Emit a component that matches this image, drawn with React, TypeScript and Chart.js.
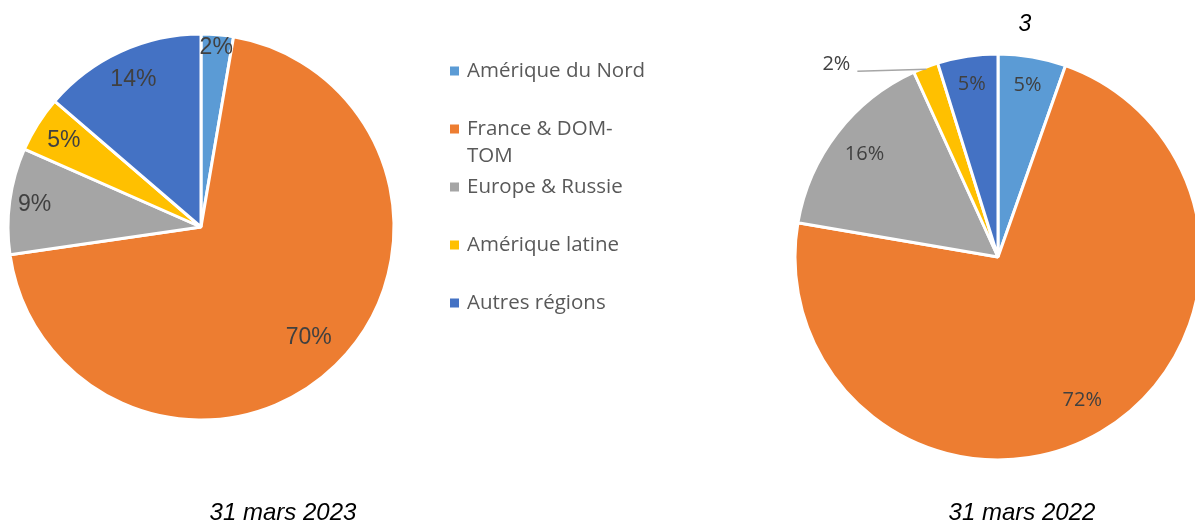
import React, { useEffect, useRef } from 'react';
import { Chart, registerables } from 'chart.js';

Chart.register(...registerables);

// ---------- data ----------
const categories = ['Amérique du Nord', 'France & DOM-TOM', 'Europe & Russie', 'Amérique latine', 'Autres régions'];
const legendLabels = ['Amérique du Nord', 'France & DOM-\nTOM', 'Europe & Russie', 'Amérique latine', 'Autres régions'];
const sliceColors = ['#5B9BD5', '#ED7D31', '#A5A5A5', '#FFC000', '#4472C4'];
const values2023 = [2.7, 70.0, 8.9, 4.7, 13.7];
const labels2023 = ['2%', '70%', '9%', '5%', '14%'];
const values2022 = [5.4, 72.3, 15.5, 2.0, 4.8];
const labels2022 = ['5%', '72%', '16%', '2%', '5%'];
const caption2023 = '31 mars 2023';
const caption2022 = '31 mars 2022';
const title2022 = '3';

const W = 1195;
const H = 524;

const sliceLabelsPlugin = {
  id: 'sliceLabels',
  afterDatasetsDraw(chart: any, _args: any, opts: any) {
    const ctx = chart.ctx;
    const meta = chart.getDatasetMeta(0);
    ctx.save();
    ctx.font = opts.font;
    ctx.fillStyle = opts.color;
    ctx.textBaseline = 'middle';
    meta.data.forEach((arc: any, i: number) => {
      const p = arc.getProps(['x', 'y', 'startAngle', 'endAngle', 'outerRadius'], true);
      const mid = (p.startAngle + p.endAngle) / 2;
      const text = opts.labels[i];
      const out = opts.outside && opts.outside.index === i ? opts.outside : null;
      if (out) {
        const ex = p.x + Math.cos(mid) * (p.outerRadius - 2);
        const ey = p.y + Math.sin(mid) * (p.outerRadius - 2);
        const lx = ex + out.dx;
        const ly = ey + out.dy;
        ctx.strokeStyle = out.lineColor;
        ctx.lineWidth = 1.5;
        ctx.beginPath();
        ctx.moveTo(ex, ey);
        ctx.lineTo(lx, ly);
        ctx.stroke();
        ctx.textAlign = 'right';
        ctx.fillText(text, lx - out.gap, ly + out.textDy);
      } else {
        const r = p.outerRadius * opts.radii[i];
        ctx.textAlign = 'center';
        ctx.fillText(text, p.x + Math.cos(mid) * r, p.y + Math.sin(mid) * r);
      }
    });
    ctx.restore();
  },
};

const annotationsPlugin = {
  id: 'annotations',
  afterDraw(chart: any, _args: any, opts: any) {
    const ctx = chart.ctx;
    ctx.save();
    ctx.textBaseline = 'middle';
    (opts.texts || []).forEach((t: any) => {
      ctx.font = t.font;
      ctx.fillStyle = t.color;
      ctx.textAlign = t.align;
      ctx.fillText(t.text, t.x, t.y);
    });
    const lg = opts.legend;
    if (lg) {
      const colors = chart.data.datasets[0].backgroundColor;
      ctx.font = lg.font;
      ctx.textAlign = 'left';
      lg.labels.forEach((lab: string, i: number) => {
        const y = lg.y0 + i * lg.step;
        ctx.fillStyle = colors[i];
        ctx.fillRect(lg.x, y - lg.box / 2, lg.box, lg.box);
        ctx.fillStyle = lg.color;
        lab.split('\n').forEach((line, j) => {
          ctx.fillText(line, lg.x + lg.textGap, y + j * lg.lineHeight);
        });
      });
    }
    ctx.restore();
  },
};

function makeConfig(values: number[], labels: string[], radius: number, padding: any, labelOpts: any, annot: any) {
  return {
    type: 'pie',
    data: {
      labels: categories,
      datasets: [
        {
          data: values,
          backgroundColor: sliceColors,
          borderColor: '#FFFFFF',
          borderWidth: 3,
          radius,
        },
      ],
    },
    options: {
      responsive: false,
      animation: false,
      devicePixelRatio: 1,
      events: [],
      layout: { padding },
      plugins: {
        legend: { display: false },
        tooltip: { enabled: false },
        title: { display: false },
        sliceLabels: { labels, ...labelOpts },
        annotations: annot,
      },
    },
    plugins: [sliceLabelsPlugin, annotationsPlugin],
  } as any;
}

export default function App() {
  const leftRef = useRef<HTMLCanvasElement>(null);
  const rightRef = useRef<HTMLCanvasElement>(null);

  useEffect(() => {
    const left = new Chart(
      leftRef.current as HTMLCanvasElement,
      makeConfig(
        values2023,
        labels2023,
        193,
        { left: 0, top: 0, right: W - 402, bottom: H - 454 },
        {
          font: '23px "Liberation Sans", Arial, sans-serif',
          color: '#404040',
          radii: [0.93, 0.8, 0.87, 0.84, 0.84],
        },
        {
          texts: [
            { text: caption2023, x: 283, y: 513, font: 'italic 24px "Liberation Sans", Arial, sans-serif', color: '#000000', align: 'center' },
          ],
          legend: {
            labels: legendLabels,
            x: 450,
            y0: 71,
            step: 58,
            box: 9,
            textGap: 17,
            lineHeight: 27,
            font: '20.5px "Open Sans", sans-serif',
            color: '#595959',
          },
        }
      )
    );
    const right = new Chart(
      rightRef.current as HTMLCanvasElement,
      makeConfig(
        values2022,
        labels2022,
        203,
        { left: 801, top: 0, right: 0, bottom: H - 514 },
        {
          font: '20px "Open Sans", sans-serif',
          color: '#404040',
          radii: [0.86, 0.82, 0.83, 0.84, 0.86],
          outside: { index: 3, dx: -69, dy: 2, gap: 7, textDy: -7, lineColor: '#A6A6A6' },
        },
        {
          texts: [
            { text: caption2022, x: 1022, y: 513, font: 'italic 24px "Liberation Sans", Arial, sans-serif', color: '#000000', align: 'center' },
            { text: title2022, x: 1025, y: 25, font: 'italic 23px "Liberation Sans", Arial, sans-serif', color: '#000000', align: 'center' },
          ],
        }
      )
    );
    return () => {
      left.destroy();
      right.destroy();
    };
  }, []);

  const canvasStyle: React.CSSProperties = { position: 'absolute', left: 0, top: 0, width: W, height: H };
  return (
    <div style={{ position: 'absolute', left: 0, top: 0, width: W, height: H, background: '#FFFFFF', overflow: 'hidden' }}>
      <canvas ref={leftRef} width={W} height={H} style={canvasStyle} />
      <canvas ref={rightRef} width={W} height={H} style={canvasStyle} />
    </div>
  );
}
